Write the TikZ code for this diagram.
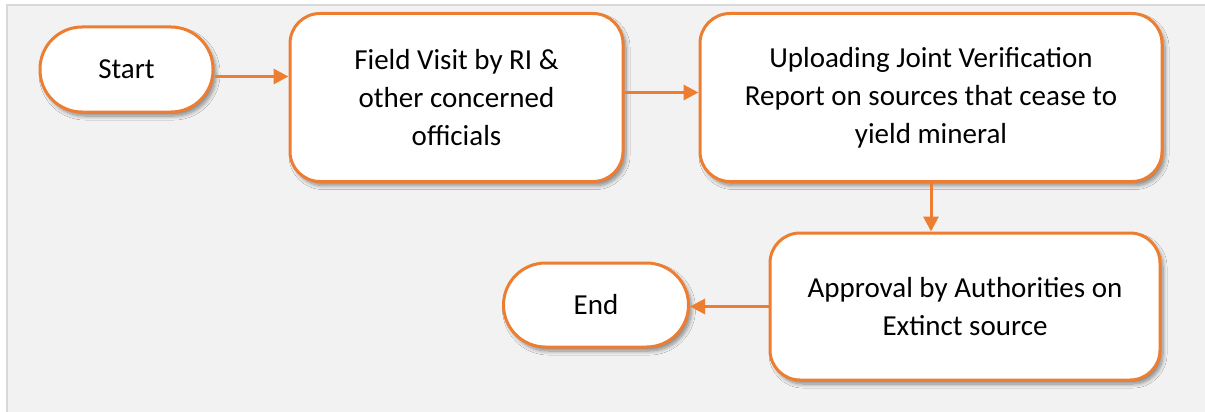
\documentclass[tikz,border=0pt]{standalone}
\usepackage{fontspec}
\setmainfont{Carlito}
\usetikzlibrary{arrows.meta,shadows.blur}
\definecolor{orng}{HTML}{ED7D31}
\definecolor{bggray}{HTML}{F2F2F2}
\definecolor{edgegray}{HTML}{D9D9D9}
\begin{document}
\begin{tikzpicture}[x=1pt,y=-1pt,
  box/.style={draw=orng, line width=3pt, fill=white, rounded corners=30pt,
    align=center, inner sep=0pt, font=\fontsize{29}{38}\selectfont,
    blur shadow={shadow xshift=3pt, shadow yshift=-4pt, shadow blur radius=4pt, shadow blur steps=8, shadow opacity=45}},
  term/.style={box, rounded corners=42pt},
  arr/.style={draw=orng, line width=3pt, -{Triangle[length=15pt,width=15pt]}}]
\useasboundingbox (0,0) rectangle (1205,412);
\fill[white] (0,0) rectangle (1205,412);
\fill[bggray] (7,5) rectangle (1205,412);
\draw[edgegray, line width=2pt] (7,412) -- (7,5) -- (1205,5);

\node[term, minimum width=173pt, minimum height=85pt] (start) at (126.5,69.5) {Start};
\node[box, minimum width=333pt, minimum height=168pt] (field) at (456.5,97.5) {Field Visit by RI \&\\other concerned\\officials};
\node[box, minimum width=462pt, minimum height=168pt] (upload) at (931,97.5) {Uploading Joint Verification\\Report on sources that cease to\\yield mineral};
\node[box, minimum width=390pt, minimum height=147pt] (approval) at (965,306.5) {Approval by Authorities on\\Extinct source};
\node[term, minimum width=185pt, minimum height=84pt] (end) at (596,305) {End};

\draw[arr] ([yshift=-7pt]start.east) -- ([yshift=-7pt]start.east -| field.west);
\draw[arr] ([yshift=5pt]field.east) -- ([yshift=5pt]field.east -| upload.west);
\draw[arr] (upload.south) -- (upload.south |- approval.north);
\draw[arr] (approval.west) -- (approval.west -| end.east);
\end{tikzpicture}
\end{document}
